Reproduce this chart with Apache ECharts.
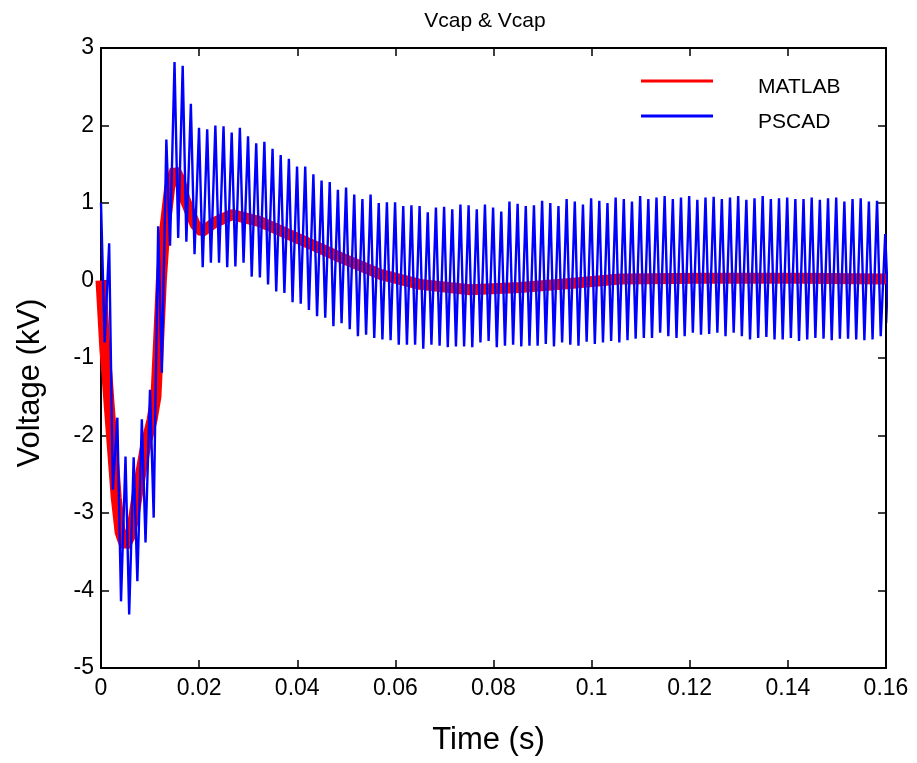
<!DOCTYPE html>
<html>
<head>
<meta charset="utf-8">
<script src="https://cdn.jsdelivr.net/npm/echarts@6/dist/echarts.min.js"></script>
<style>
html,body{margin:0;padding:0;background:#fff;}
#chart{width:917px;height:763px;}
</style>
</head>
<body>
<div id="chart"></div>
<script>
// ---- Data ----
const titleText = 'Vcap & Vcap';
const seriesNames = ['MATLAB', 'PSCAD'];
const xTickLabels = ['0', '0.02', '0.04', '0.06', '0.08', '0.1', '0.12', '0.14', '0.16'];
const yTickLabels = ['-5', '-4', '-3', '-2', '-1', '0', '1', '2', '3'];

// MATLAB (red) trace: time (s) and voltage (kV)
const matlabTime = [0, 0.0004, 0.0008, 0.0012, 0.0016, 0.0022, 0.0031, 0.0039, 0.0049, 0.0059, 0.0067, 0.0073,
  0.0082, 0.0092, 0.0104, 0.0112, 0.0118, 0.0123, 0.0130, 0.0140, 0.0151, 0.0161, 0.0171, 0.0192, 0.0206,
  0.0232, 0.0267, 0.0324, 0.0406, 0.0487, 0.0569, 0.0650, 0.0752, 0.0854, 0.0956, 0.1058, 0.1221, 0.1425, 0.16];
const matlabValue = [0, -0.45, -0.9, -1.2, -1.55, -2.05, -2.8, -3.25, -3.43, -3.3, -3.05, -2.8,
  -2.45, -2.1, -1.8, -1.5, -0.7, 0, 0.66, 1.2, 1.43, 1.3, 1.05, 0.72, 0.63,
  0.75, 0.85, 0.76, 0.53, 0.30, 0.08, -0.05, -0.12, -0.09, -0.04, 0.02, 0.03, 0.03, 0.02];

// PSCAD (blue) trace: one oscillation per sample step, upper and lower extremes
const pscadStep = 0.001665; // s between successive upper peaks
const pscadHigh = [1.0, 0.48, -1.77, -2.27, -2.28, -1.79, -1.41, 0.7, 1.82, 2.82,
  2.77, 2.28, 1.97, 1.95, 2.0, 1.99, 1.91, 1.97, 1.86, 1.77,
  1.79, 1.70, 1.62, 1.57, 1.47, 1.47, 1.37, 1.29, 1.27, 1.17,
  1.2, 1.11, 1.05, 1.11, 1.0, 1.01, 1.01, 0.96, 0.97, 0.96,
  0.88, 0.94, 0.95, 0.92, 0.98, 0.97, 0.92, 0.98, 0.94, 0.89,
  1.02, 0.99, 0.96, 0.97, 1.03, 1.0, 0.96, 1.05, 1.02, 0.98,
  1.06, 1.03, 1.0, 1.07, 1.05, 1.02, 1.09, 1.05, 1.07, 1.09,
  1.05, 1.07, 1.09, 1.04, 1.07, 1.08, 1.05, 1.07, 1.09, 1.04,
  1.06, 1.09, 1.05, 1.06, 1.07, 1.05, 1.05, 1.07, 1.04, 1.06,
  1.07, 1.02, 1.05, 1.06, 1.02, 1.03, 0.6];
const pscadLow = [-0.8, -2.7, -4.14, -4.31, -3.88, -3.38, -3.06, -1.19, 0.45, 0.55,
  0.5, 0.34, 0.17, 0.23, 0.23, 0.17, 0.18, 0.23, 0.05, 0.04,
  -0.05, -0.14, -0.16, -0.28, -0.3, -0.38, -0.46, -0.48, -0.59, -0.55,
  -0.63, -0.72, -0.70, -0.74, -0.76, -0.77, -0.83, -0.83, -0.83, -0.88,
  -0.83, -0.84, -0.86, -0.85, -0.85, -0.86, -0.8, -0.78, -0.86, -0.84,
  -0.83, -0.85, -0.84, -0.84, -0.82, -0.85, -0.80, -0.83, -0.84, -0.79,
  -0.82, -0.80, -0.78, -0.80, -0.77, -0.75, -0.74, -0.74, -0.675, -0.72,
  -0.74, -0.72, -0.675, -0.70, -0.69, -0.675, -0.72, -0.675, -0.72, -0.76,
  -0.74, -0.73, -0.76, -0.76, -0.74, -0.78, -0.76, -0.74, -0.75, -0.77,
  -0.75, -0.75, -0.76, -0.77, -0.76, -0.72, -0.55];

// ---- Build series data ----
const matlabData = matlabTime.map((t, i) => [t, matlabValue[i]]);
const pscadData = [];
pscadHigh.forEach((h, i) => {
  pscadData.push([i * pscadStep, h]);
  pscadData.push([(i + 0.45) * pscadStep, pscadLow[i]]);
});

const FONT = 'Liberation Sans, Arial, sans-serif';
const chart = echarts.init(document.getElementById('chart'), null, {renderer: 'canvas'});
const axisCommon = {
  axisLine: {show: true, onZero: false, lineStyle: {color: '#000', width: 2}},
  axisTick: {show: true, inside: true, length: 8, lineStyle: {color: '#000', width: 1.5}},
  splitLine: {show: false}
};
const fmtX = v => xTickLabels[Math.round(v / 0.02)] ?? '';
const fmtY = v => yTickLabels[Math.round(v + 5)] ?? '';

chart.setOption({
  animation: false,
  backgroundColor: '#fff',
  title: {
    text: titleText, left: 480, top: 6, textAlign: 'center',
    textStyle: {fontFamily: FONT, fontWeight: 'normal', fontSize: 21, color: '#000'}
  },
  legend: {
    orient: 'vertical', left: 641, top: 77, padding: 0,
    // line icon sits at the top of its box so the label reads a little below it
    icon: 'path://M0,0L72,0L72,3L0,3Z M0,16L0.01,16L0.01,16.01Z',
    itemWidth: 72, itemHeight: 16, itemGap: 14, symbolKeepAspect: false,
    itemStyle: {borderWidth: 0},
    data: seriesNames,
    textStyle: {fontFamily: FONT, fontSize: 21, color: '#000', padding: [0, 0, 0, 40]}
  },
  grid: {left: 101, right: 31, top: 48, bottom: 95, containLabel: false},
  xAxis: [
    Object.assign({}, axisCommon, {
      type: 'value', min: 0, max: 0.16, interval: 0.02, position: 'bottom',
      name: 'Time (s)', nameLocation: 'middle', nameGap: 57,
      nameTextStyle: {fontFamily: FONT, fontSize: 31, color: '#000', padding: [0, 10, 0, 0]},
      axisLabel: {formatter: fmtX, fontFamily: FONT, fontSize: 23, color: '#000', margin: 9}
    }),
    Object.assign({}, axisCommon, {
      type: 'value', min: 0, max: 0.16, interval: 0.02, position: 'top',
      axisLabel: {show: false}
    })
  ],
  yAxis: [
    Object.assign({}, axisCommon, {
      type: 'value', min: -5, max: 3, interval: 1, position: 'left',
      name: 'Voltage (kV)', nameLocation: 'middle', nameGap: 55,
      nameTextStyle: {fontFamily: FONT, fontSize: 31, color: '#000', padding: [0, 50, 0, 0]},
      axisLabel: {formatter: fmtY, fontFamily: FONT, fontSize: 23, color: '#000', margin: 7}
    }),
    Object.assign({}, axisCommon, {
      type: 'value', min: -5, max: 3, interval: 1, position: 'right',
      axisLabel: {show: false}
    })
  ],
  series: [
    {
      name: seriesNames[0], type: 'line', data: matlabData, showSymbol: false, symbol: 'none',
      lineStyle: {color: '#ff0000', width: 11}, itemStyle: {color: '#ff0000'}, z: 2
    },
    {
      name: seriesNames[1], type: 'line', data: pscadData, showSymbol: false, symbol: 'none',
      lineStyle: {color: '#0000ff', width: 2.4}, itemStyle: {color: '#0000ff'}, z: 3
    }
  ]
});
</script>
</body>
</html>
